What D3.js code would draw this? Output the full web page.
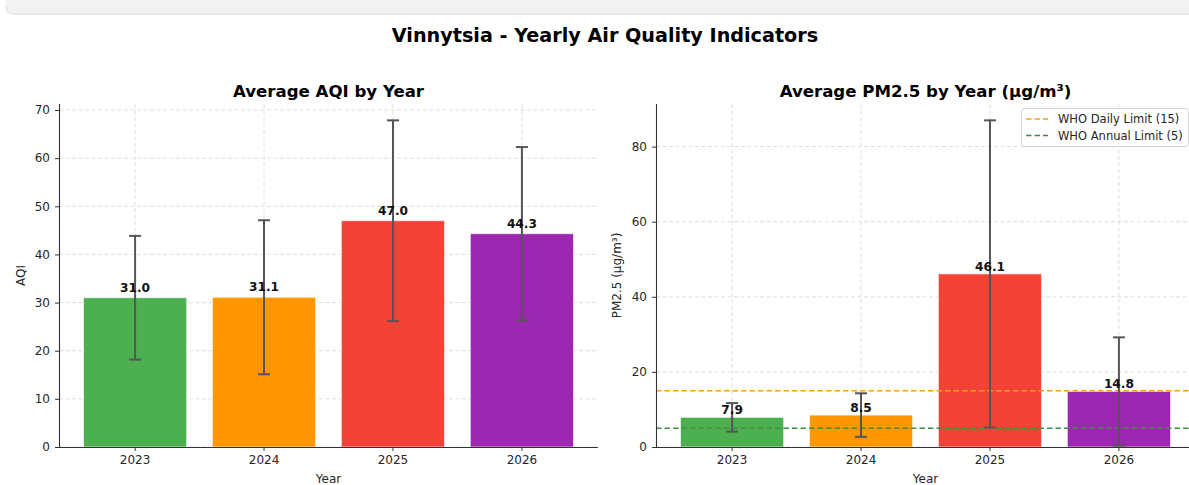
<!DOCTYPE html>
<html>
<head>
<meta charset="utf-8">
<script src="https://cdn.jsdelivr.net/npm/d3@7"></script>
<style>
  body { margin: 0; background: #fff; }
  svg { display: block; font-family: "DejaVu Sans", sans-serif; }
</style>
</head>
<body>
<svg id="chart" width="1189" height="485"></svg>
<script>
// --- Data ---
const years = ["2023", "2024", "2025", "2026"];
const barColors = ["#4caf50", "#ff9800", "#f44336", "#9c27b0"];
const aqiMean = [31.0, 31.1, 47.0, 44.3];
const aqiStd = [12.85, 16.0, 20.85, 18.0];
const pmMean = [7.9, 8.5, 46.1, 14.8];
const pmStd = [3.8, 5.8, 40.9, 14.4];
const aqiTicks = [0, 10, 20, 30, 40, 50, 60, 70];
const pmTicks = [0, 20, 40, 60, 80];
const whoLimits = [
    { label: "WHO Daily Limit (15)", value: 15, color: "#ff9a1a" },
    { label: "WHO Annual Limit (5)", value: 5, color: "#3f8f3f" }
];

const svg = d3.select("#chart");

// top strip (notebook frame remnant)
svg.append("path")
    .attr("d", "M6,-1 L1189,-1 L1189,14 L14,14 Q6,14 6,6 Z")
    .attr("fill", "#f1f2f4");
svg.append("path")
    .attr("d", "M6,6 Q6,14 14,14 L1189,14")
    .attr("fill", "none")
    .attr("stroke", "#d8d9dc");

svg.append("text")
    .attr("x", 605).attr("y", 42)
    .attr("text-anchor", "middle")
    .style("font-size", "19.2px").style("font-weight", "bold")
    .text("Vinnytsia - Yearly Air Quality Indicators");

function drawPanel(opts) {
    const { left, right, top, bottom, means, stds, ticks, title, ylabel, ylabelX, labelOffset } = opts;
    const g = svg.append("g");

    const x = d3.scaleBand()
        .domain(years)
        .range([left, right])
        .paddingInner(0.2)
        .paddingOuter(0.19);

    const yMax = d3.max(means.map((m, i) => m + stds[i])) * 1.05;
    const y = d3.scaleLinear().domain([0, yMax]).range([bottom, top]);

    // grid
    g.append("g").selectAll("line").data(ticks).join("line")
        .attr("x1", left).attr("x2", right)
        .attr("y1", d => y(d)).attr("y2", d => y(d))
        .attr("stroke", "#dedede").attr("stroke-dasharray", "4,2.5");
    g.append("g").selectAll("line").data(years).join("line")
        .attr("x1", d => x(d) + x.bandwidth() / 2).attr("x2", d => x(d) + x.bandwidth() / 2)
        .attr("y1", top).attr("y2", bottom)
        .attr("stroke", "#dedede").attr("stroke-dasharray", "4,2.5");

    // bars
    g.append("g").selectAll("rect").data(means).join("rect")
        .attr("x", (d, i) => x(years[i]))
        .attr("y", d => y(d))
        .attr("width", x.bandwidth())
        .attr("height", d => bottom - y(d))
        .attr("fill", (d, i) => barColors[i])
        .attr("stroke", "#ffffff").attr("stroke-opacity", 0.6).attr("stroke-width", 1);

    // reference lines
    if (opts.limits) {
        g.append("g").selectAll("line").data(opts.limits).join("line")
            .attr("x1", left).attr("x2", right)
            .attr("y1", d => y(d.value)).attr("y2", d => y(d.value))
            .attr("stroke", d => d.color).attr("stroke-width", 1.5)
            .attr("stroke-dasharray", "5.5,3");
    }

    // error bars
    const eb = g.append("g").selectAll("g").data(means).join("g")
        .attr("stroke", "#555").attr("stroke-width", 2);
    eb.append("line")
        .attr("x1", (d, i) => x(years[i]) + x.bandwidth() / 2)
        .attr("x2", (d, i) => x(years[i]) + x.bandwidth() / 2)
        .attr("y1", (d, i) => y(Math.max(0, d - stds[i])))
        .attr("y2", (d, i) => y(d + stds[i]));
    [1, -1].forEach(s => {
        eb.append("line")
            .attr("x1", (d, i) => x(years[i]) + x.bandwidth() / 2 - 6)
            .attr("x2", (d, i) => x(years[i]) + x.bandwidth() / 2 + 6)
            .attr("y1", (d, i) => y(Math.max(0, d + s * stds[i])))
            .attr("y2", (d, i) => y(Math.max(0, d + s * stds[i])));
    });

    // value labels
    g.append("g").selectAll("text").data(means).join("text")
        .attr("x", (d, i) => x(years[i]) + x.bandwidth() / 2)
        .attr("y", d => y(d) - labelOffset)
        .attr("text-anchor", "middle")
        .style("font-size", "12.2px").style("font-weight", "bold")
        .attr("fill", "#111")
        .text(d => d.toFixed(1));

    // axes
    const yAxis = g.append("g")
        .attr("transform", `translate(${left},0)`)
        .call(d3.axisLeft(y).tickValues(ticks).tickSize(4).tickPadding(5).tickFormat(d3.format("d")));
    const xAxis = g.append("g")
        .attr("transform", `translate(0,${bottom})`)
        .call(d3.axisBottom(x).tickSize(4).tickPadding(4));
    [yAxis, xAxis].forEach(a => {
        a.select(".domain").attr("stroke", "#333").attr("stroke-width", 1.1);
        a.selectAll(".tick line").attr("stroke", "#333");
        a.selectAll(".tick text").attr("fill", "#262626").style("font-size", "12px")
            .style("font-family", "DejaVu Sans, sans-serif");
    });
    xAxis.select(".domain").attr("d", `M${left},0.5H${right}`);
    yAxis.select(".domain").attr("d", `M0.5,${bottom}V${top}`);

    // titles
    g.append("text")
        .attr("x", (left + right) / 2).attr("y", top - 7)
        .attr("text-anchor", "middle")
        .style("font-size", "16.6px").style("font-weight", "bold")
        .text(title);
    g.append("text")
        .attr("x", (left + right) / 2).attr("y", 483)
        .attr("text-anchor", "middle")
        .style("font-size", "12px").attr("fill", "#262626")
        .text("Year");
    g.append("text")
        .attr("transform", `translate(${ylabelX},${(top + bottom) / 2}) rotate(-90)`)
        .attr("text-anchor", "middle")
        .style("font-size", "12px").attr("fill", "#262626")
        .text(ylabel);

    // legend
    if (opts.limits) {
        const lg = g.append("g").attr("transform", "translate(1021,108)");
        lg.append("rect")
            .attr("x", 0.5).attr("y", 0.5).attr("width", 167).attr("height", 38).attr("rx", 3)
            .attr("fill", "#fff").attr("fill-opacity", 0.8).attr("stroke", "#d5d5d5");
        const items = lg.selectAll("g.item").data(opts.limits).join("g")
            .attr("class", "item")
            .attr("transform", (d, i) => `translate(0,${11 + i * 16.5})`);
        items.append("line")
            .attr("x1", 5).attr("x2", 27).attr("y1", 0).attr("y2", 0)
            .attr("stroke", d => d.color).attr("stroke-width", 1.5).attr("stroke-dasharray", "5.5,3");
        items.append("text")
            .attr("x", 37).attr("y", 4)
            .style("font-size", "11.5px").attr("fill", "#262626")
            .text(d => d.label);
    }
}

drawPanel({
    left: 59, right: 598, top: 104, bottom: 447,
    means: aqiMean, stds: aqiStd, ticks: aqiTicks,
    title: "Average AQI by Year", ylabel: "AQI", ylabelX: 25, labelOffset: 6
});
drawPanel({
    left: 656, right: 1195, top: 104, bottom: 447,
    means: pmMean, stds: pmStd, ticks: pmTicks,
    title: "Average PM2.5 by Year (µg/m³)", ylabel: "PM2.5 (µg/m³)", ylabelX: 621, labelOffset: 3,
    limits: whoLimits
});
</script>
</body>
</html>
